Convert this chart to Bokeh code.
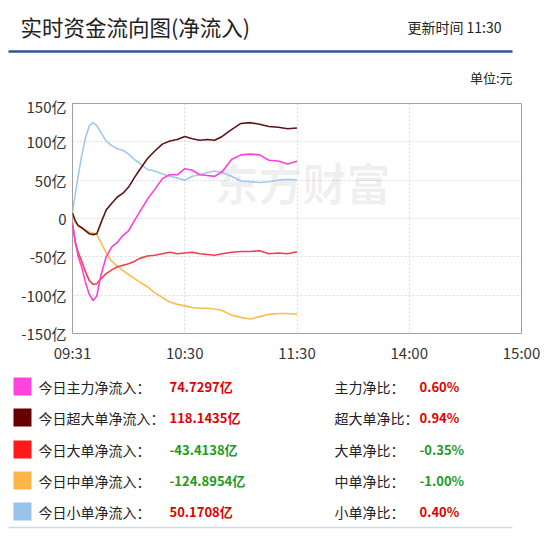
from bokeh.plotting import figure
from bokeh.models import Range1d, FixedTicker
from bokeh.layouts import column
from bokeh.embed import file_html
from bokeh.resources import INLINE
from bokeh.core.properties import value

# ---------------- data ----------------
minutes = [0, 1.5, 3, 5, 7, 9, 11, 13, 15, 18, 21, 24, 27, 30, 33, 36, 40, 44, 48, 52,
           56, 60, 64, 68, 72, 76, 80, 85, 90, 95, 100, 105, 110, 115, 120]
main_net = [-5, -31, -49, -64, -84, -99, -107, -101, -76, -50, -37, -31, -22, -16, -3, 9, 25, 38, 52, 57,
            57, 65, 63, 57, 56, 55, 61, 77, 83, 84, 83, 76, 75, 71, 74.73]
super_net = [7, -3, -9, -12, -16, -20, -21, -20, -7, 11, 20, 28, 33, 41, 53, 64, 78, 88, 97, 101,
             103, 107, 104, 102, 103, 102, 107, 116, 124, 125, 123, 120, 119, 117, 118.14]
large_net = [-8, -31, -44, -56, -70, -81, -86, -85, -79, -72, -67, -63, -61, -59, -56, -52, -49, -48, -46, -44,
             -46, -45, -44, -46, -47, -48, -46, -44, -43, -43, -42, -46, -45, -46, -43.41]
medium_net = [5, -5, -10, -13, -15, -18, -19, -21, -30, -45, -56, -62, -68, -73, -78, -83, -89, -97, -103, -109,
              -112, -114, -116, -117, -117, -118, -120, -126, -129, -131, -128, -125, -124, -124, -124.9]
small_net = [8, 32, 55, 83, 106, 121, 125, 121, 113, 101, 95, 91, 89, 84, 77, 72, 64, 62, 58, 55,
             53, 50, 55, 57, 60, 62, 60, 55, 49, 48, 47, 48, 50, 51, 50.17]

series_names = ["今日主力净流入：", "今日超大单净流入：", "今日大单净流入：", "今日中单净流入：", "今日小单净流入："]
series_totals = ["74.7297亿", "118.1435亿", "-43.4138亿", "-124.8954亿", "50.1708亿"]
ratio_names = ["主力净比：", "超大单净比：", "大单净比：", "中单净比：", "小单净比："]
ratio_values = ["0.60%", "0.94%", "-0.35%", "-1.00%", "0.40%"]

x_ticks = [0, 60, 120, 180, 240]
x_tick_labels = ["09:31", "10:30", "11:30", "14:00", "15:00"]
y_ticks = [-150, -100, -50, 0, 50, 100, 150]
y_tick_labels = ["-150亿", "-100亿", "-50亿", "0", "50亿", "100亿", "150亿"]

title_text = "实时资金流向图(净流入)"
update_text = "更新时间 11:30"
unit_text = "单位:元"
watermark = "东方财富"

# ---------------- style ----------------
FONT = "Noto Sans CJK SC"
square_colors = ["#ff44dd", "#660000", "#ff1a1a", "#ffb547", "#99c2ea"]
line_colors = ["#ff3fdc", "#5e1414", "#f0404c", "#fbbd4c", "#a2c8ea"]
POS = "#e00000"
NEG = "#1e9a1e"
TXT = "#222222"
W = 549


def no_align(f):
    try:
        f.frame_align = False
    except Exception:
        pass
    return f


def blank(h):
    f = figure(width=W, height=h, x_range=Range1d(0, W), y_range=Range1d(h, 0),
               output_backend="svg", toolbar_location=None, min_border=0,
               x_axis_location=None, y_axis_location=None)
    f.grid.visible = False
    f.outline_line_color = None
    f.background_fill_color = "white"
    f.border_fill_color = "white"
    return no_align(f)


# ---------------- header (pixel coordinates) ----------------
hdr = blank(95)
hdr.text(x=[20], y=[26], text=[title_text], text_font=value(FONT), text_font_size="21.5px",
         text_baseline="middle", text_align="left", text_color=TXT)
hdr.text(x=[501], y=[26], text=[update_text], text_font=value(FONT), text_font_size="14px",
         text_baseline="middle", text_align="right", text_color=TXT)
hdr.segment(x0=[8], y0=[51], x1=[512], y1=[51], line_color="#2c5597", line_width=2.5)
hdr.text(x=[512], y=[77], text=[unit_text], text_font=value(FONT), text_font_size="13px",
         text_baseline="middle", text_align="right", text_color=TXT)

# ---------------- chart ----------------
ch = figure(width=W, height=270, x_range=Range1d(0, 240), y_range=Range1d(-150, 150),
            output_backend="svg", toolbar_location=None,
            min_border_left=72, min_border_right=28, min_border_top=8, min_border_bottom=30)
no_align(ch)
ch.background_fill_color = "white"
ch.border_fill_color = "white"
ch.outline_line_color = "#a0a0a0"
ch.outline_line_width = 1

ch.xaxis.ticker = FixedTicker(ticks=x_ticks)
ch.xaxis.major_label_overrides = dict(zip(x_ticks, x_tick_labels))
ch.yaxis.ticker = FixedTicker(ticks=y_ticks)
ch.yaxis.major_label_overrides = dict(zip(y_ticks, y_tick_labels))
for ax in (ch.xaxis[0], ch.yaxis[0]):
    ax.axis_line_color = None
    ax.major_tick_line_color = None
    ax.minor_tick_line_color = None
    ax.major_tick_out = 0
    ax.major_tick_in = 0
    ax.major_label_text_font = FONT
    ax.major_label_text_font_size = "15px"
    ax.major_label_text_color = "#333333"
ch.xaxis.major_label_standoff = 8
ch.yaxis.major_label_standoff = 6

ch.xgrid.ticker = FixedTicker(ticks=[60, 120, 180])
ch.ygrid.ticker = FixedTicker(ticks=[-100, -50, 0, 50, 100])
for g in (ch.xgrid[0], ch.ygrid[0]):
    g.grid_line_color = "#d6dbe3"
    g.grid_line_dash = "2 2"
    g.grid_line_width = 1

ch.text(x=[123], y=[47], text=[watermark], text_font=value(FONT), text_font_size="44px",
        text_font_style="bold", text_align="center", text_baseline="middle",
        text_color="#000000", text_alpha=0.06)

series = [main_net, super_net, large_net, medium_net, small_net]
for idx in [4, 3, 2, 0, 1]:
    ch.line(minutes, series[idx], line_color=line_colors[idx], line_width=1.6)

# ---------------- legend (pixel coordinates) ----------------
leg = blank(172)
row_y = [21, 52, 84, 115, 146]
leg.rect(x=[22] * 5, y=row_y, width=18, height=18, fill_color=square_colors, line_color=None)
leg.text(x=[38] * 5, y=row_y, text=series_names, text_font=value(FONT), text_font_size="14px",
         text_baseline="middle", text_align="left", text_color=TXT)
val_colors = [NEG if v.startswith("-") else POS for v in series_totals]
leg.text(x=[169] * 5, y=row_y, text=series_totals, text_font=value(FONT), text_font_size="13px",
         text_font_style="bold", text_baseline="middle", text_align="left", text_color=val_colors)
leg.text(x=[334] * 5, y=row_y, text=ratio_names, text_font=value(FONT), text_font_size="14px",
         text_baseline="middle", text_align="left", text_color=TXT)
r_colors = [NEG if v.startswith("-") else POS for v in ratio_values]
leg.text(x=[419] * 5, y=row_y, text=ratio_values, text_font=value(FONT), text_font_size="13px",
         text_font_style="bold", text_baseline="middle", text_align="left", text_color=r_colors)
leg.segment(x0=[8], y0=[162], x1=[512], y1=[162], line_color="#c8dbea", line_width=1.5)

layout = column(hdr, ch, leg, spacing=0)
open("out.html", "w").write(file_html(layout, INLINE))
